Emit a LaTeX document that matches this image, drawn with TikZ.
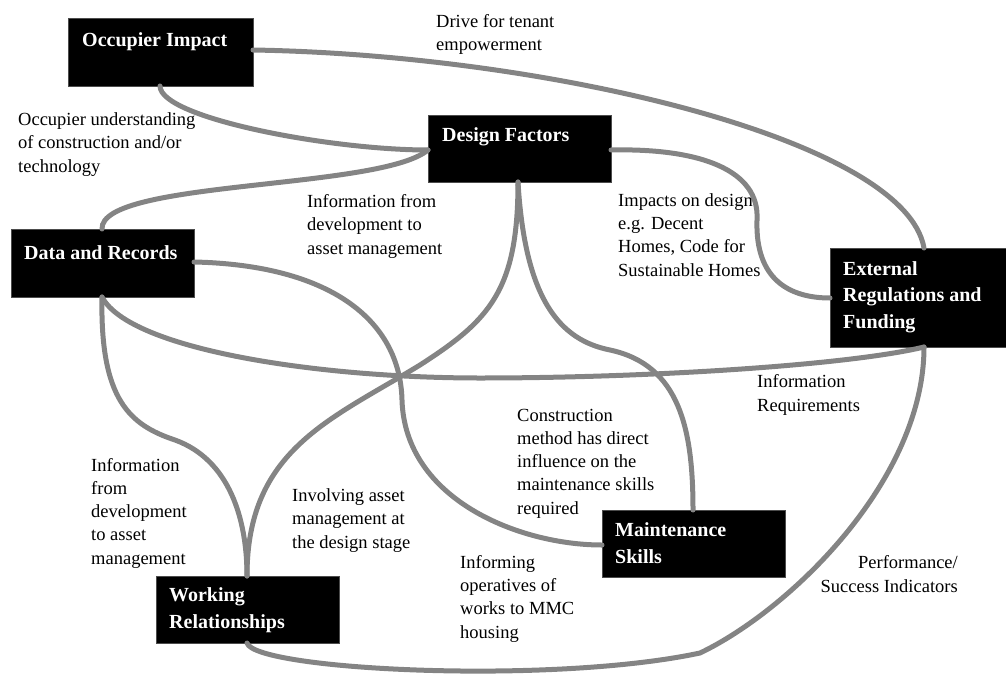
\documentclass[tikz,border=0pt]{standalone}
\usepackage{fontspec}
\setmainfont{Liberation Serif}
\definecolor{linkgray}{RGB}{132,132,132}
\tikzset{
  box/.style={fill=black, draw=black!70, line width=0.8pt, inner sep=0pt},
  boxlabel/.style={anchor=base west, text=white, align=left, inner sep=0pt,
    font=\fontsize{20}{26.5}\selectfont\bfseries},
  lbl/.style={anchor=base west, align=left, inner sep=0pt,
    font=\fontsize{18.5}{23.2}\selectfont},
  link/.style={draw=linkgray, line width=5pt, line cap=round},
}
\begin{document}
\begin{tikzpicture}[x=1pt,y=-1pt]
\useasboundingbox (0,0) rectangle (1006,677);
% boxes
\path[box] (68,18) rectangle (253,86);
\coordinate (oi-r) at (253,50); \coordinate (oi-b) at (160,86);
\path[box] (428,115) rectangle (611,182);
\coordinate (df-l) at (428,150); \coordinate (df-r) at (611,150); \coordinate (df-b) at (518,182);
\path[box] (11,229) rectangle (194,297);
\coordinate (dr-t) at (102,229); \coordinate (dr-r) at (194,262); \coordinate (dr-b) at (102,297);
\path[box] (830,248) rectangle (1006,347);
\coordinate (er-t) at (924,248); \coordinate (er-l) at (830,298); \coordinate (er-b) at (924,347);
\path[box] (602,510) rectangle (785,577);
\coordinate (ms-t) at (693,510); \coordinate (ms-l) at (602,545);
\path[box] (156,576) rectangle (339,643);
\coordinate (wr-t) at (247,576); \coordinate (wr-b) at (247,643);

% connectors
\draw[link] (oi-r) .. controls (550,55) and (905,140) .. (er-t);
\draw[link] (oi-b) .. controls (160,118) and (330,150) .. (df-l);
\draw[link] (df-l) .. controls (380,190) and (100,180) .. (dr-t);
\draw[link] (df-r) .. controls (700,148) and (760,170) .. (757,220)
                   .. controls (755,280) and (790,298) .. (er-l);
\draw[link] (df-b) .. controls (518,290) and (490,320) .. (420,365)
                   .. controls (330,420) and (247,450) .. (wr-t);
\draw[link] (df-b) .. controls (525,300) and (560,340) .. (610,350)
                   .. controls (680,365) and (693,430) .. (ms-t);
\draw[link] (dr-r) .. controls (330,265) and (400,320) .. (402,400)
                   .. controls (405,500) and (520,545) .. (ms-l);
\draw[link] (dr-b) .. controls (130,350) and (320,378) .. (480,378)
                   .. controls (650,378) and (850,365) .. (er-b);
\draw[link] (dr-b) .. controls (100,400) and (130,425) .. (175,440)
                   .. controls (230,460) and (247,520) .. (wr-t);
\draw[link] (wr-b) .. controls (255,670) and (550,685) .. (700,653)
                   .. controls (790,610) and (924,480) .. (er-b);

% box labels (anchor = baseline of last line)
\node[boxlabel] (oi) at (82,47) {Occupier Impact};
\node[boxlabel] (df) at (442,141) {Design Factors};
\node[boxlabel] (dr) at (24,259) {Data and Records};
\node[boxlabel] (er) at (843,328) {External\\Regulations and\\Funding};
\node[boxlabel] (ms) at (615,563) {Maintenance\\Skills};
\node[boxlabel] (wr) at (169,628) {Working\\Relationships};

% link labels (anchor = baseline of last line)
\node[lbl] (t1) at (18,172) {Occupier understanding\\of construction and/or\\technology};
\node[lbl] (t2) at (436,51) {Drive for tenant\\empowerment};
\node[lbl] (t3) at (307,254) {Information from\\development to\\asset management};
\node[lbl] (t4) at (618,276) {Impacts on design\\e.g. Decent\\Homes, Code for\\Sustainable Homes};
\node[lbl] (t5) at (757,411) {Information\\Requirements};
\node[lbl] (t6) at (517,514) {Construction\\method has direct\\influence on the\\maintenance skills\\required};
\node[lbl] (t7) at (91,564) {Information\\from\\development\\to asset\\management};
\node[lbl] (t8) at (292,548) {Involving asset\\management at\\the design stage};
\node[lbl] (t9) at (460,638) {Informing\\operatives of\\works to MMC\\housing};
\node[lbl, align=right, anchor=base east] (t10) at (958,592) {Performance/\\Success Indicators};
\end{tikzpicture}
\end{document}
